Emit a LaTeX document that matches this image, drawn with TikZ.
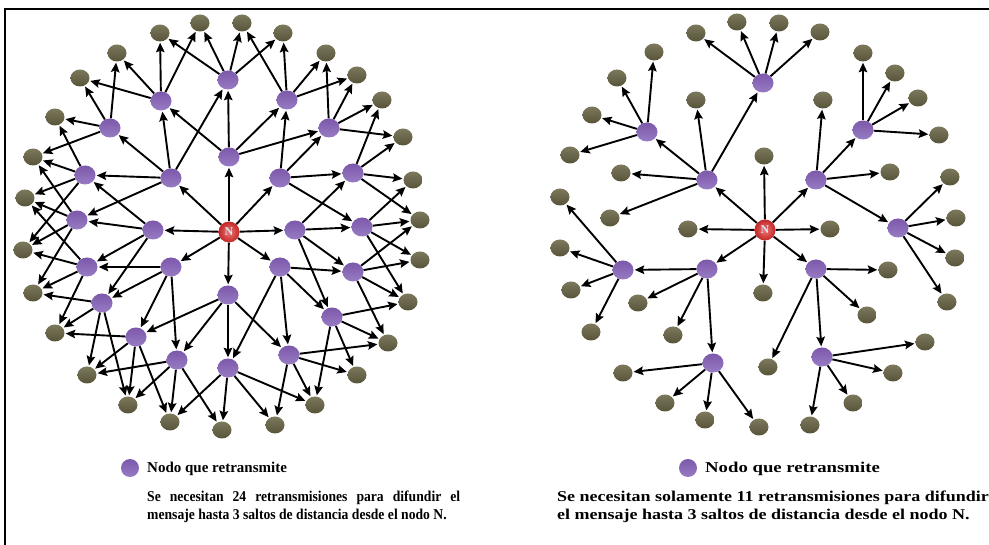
\documentclass[tikz,border=0pt]{standalone}
\usepackage{fontspec}
\setmainfont{Liberation Serif}
\newfontfamily\capL[FakeStretch=0.91]{Liberation Serif}
\newfontfamily\capR[FakeStretch=1.2]{Liberation Serif}
\newfontfamily\legL[FakeStretch=1.0]{Liberation Serif}
\newfontfamily\legR[FakeStretch=1.25]{Liberation Serif}
\usetikzlibrary{shapes.geometric,arrows.meta}
\pgfdeclarelayer{bg}
\pgfsetlayers{bg,main}
\definecolor{relay}{RGB}{124,88,170}
\definecolor{relaylight}{RGB}{152,124,196}
\definecolor{leaf}{RGB}{88,84,58}
\definecolor{leaflight}{RGB}{124,120,92}
\definecolor{srcin}{RGB}{238,120,115}
\definecolor{srcout}{RGB}{192,38,38}
\tikzset{
  relaynode/.style={ellipse,minimum width=21pt,minimum height=19pt,inner sep=0pt,
    top color=relay,bottom color=relaylight,draw=none},
  leafnode/.style={ellipse,minimum width=19pt,minimum height=17pt,inner sep=0pt,
    top color=leaflight,bottom color=leaf,draw=none},
  srcnode/.style={circle,minimum size=21pt,inner sep=0pt,inner color=srcin,outer color=srcout,
    text={rgb,255:red,215;green,228;blue,245},font=\bfseries\fontsize{12}{12}\selectfont},
  arr/.style={-{Stealth[length=9.5pt,width=8.5pt,inset=1.5pt]},line width=1.9pt,shorten >=1pt},
  captext/.style={inner sep=0pt,anchor=base west},
}
\newcommand{\capsize}{\bfseries\fontsize{15}{17}\selectfont}
\begin{document}
\begin{tikzpicture}[x=1pt,y=-1pt]
\useasboundingbox (0,0) rectangle (989,545);
% frame
\draw[line width=2pt] (5,545) -- (5,9) -- (989,9);

% ---------- left network: flooding ----------
\node[srcnode] (N) at (229,232) {N};
\foreach \n/\x/\y in {a1/229/157,a2/171/178,a3/280/178,a4/153/230,a5/295/230,a6/171/267,a7/280/267,a8/228/295,
  b1/228/80,b2/161/101,b3/287/100,b4/110/128,b5/329/128,b6/85/175,b7/353/173,b8/77/220,b9/362/227,
  b10/87/267,b11/353/272,b12/102/303,b13/332/317,b14/136/337,b15/289/355,b16/177/360,b17/228/368}
  \node[relaynode] (\n) at (\x,\y) {};
\foreach \n/\x/\y in {o1/200/23,o2/242/23,o3/160/33,o4/283/33,o5/117/53,o6/326/53,o7/80/78,o8/357/75,
  o9/55/117,o10/382/100,o11/33/157,o12/403/137,o13/25/198,o14/413/180,o15/420/220,o16/23/250,
  o17/420/260,o18/33/293,o19/408/302,o20/55/333,o21/388/343,o22/87/375,o23/357/375,o24/128/405,
  o25/315/405,o26/170/422,o27/275/425,o28/222/430}
  \node[leafnode] (\n) at (\x,\y) {};

\begin{pgfonlayer}{bg}
\foreach \s/\t in {N/a1,N/a2,N/a3,N/a4,N/a5,N/a6,N/a7,N/a8,
  a1/b1,a1/b2,a1/b3,a1/b5,
  a2/b2,a2/b1,a2/b4,a2/b6,a2/b8,
  a3/b3,a3/b5,a3/b7,a3/b9,
  a4/b6,a4/b8,a4/b10,a4/b12,
  a5/b9,a5/b7,a5/b11,a5/b13,
  a6/b10,a6/b12,a6/b14,a6/b16,
  a7/b11,a7/b13,a7/b15,a7/b17,
  a8/b17,a8/b15,a8/b16,a8/b14,
  b1/o1,b1/o2,b1/o3,b1/o4,
  b2/o3,b2/o1,b2/o5,b2/o7,
  b3/o2,b3/o4,b3/o6,b3/o8,
  b4/o5,b4/o7,b4/o9,b4/o11,
  b5/o6,b5/o8,b5/o10,b5/o12,
  b6/o9,b6/o11,b6/o13,b6/o16,
  b7/o10,b7/o12,b7/o14,b7/o15,
  b8/o11,b8/o13,b8/o16,b8/o18,
  b9/o14,b9/o15,b9/o17,b9/o19,
  b10/o13,b10/o16,b10/o18,b10/o20,
  b11/o15,b11/o17,b11/o19,b11/o21,
  b12/o18,b12/o20,b12/o22,b12/o24,
  b13/o19,b13/o21,b13/o23,b13/o25,
  b14/o20,b14/o22,b14/o24,b14/o26,
  b15/o21,b15/o23,b15/o25,b15/o27,
  b16/o22,b16/o24,b16/o26,b16/o28,
  b17/o25,b17/o26,b17/o27,b17/o28}
  \draw[arr] (\s) -- (\t);
\end{pgfonlayer}

% ---------- right network: selected relays ----------
\node[srcnode] (rN) at (765,230) {N};
\foreach \n/\x/\y in {rp1/707/180,rp2/816/180,rp3/707/269,rp4/816/269,
  rq1/763/83,rq2/647/132,rq3/863/130,rq4/898/228,rq5/623/270,rq6/713/363,rq7/822/357}
  \node[relaynode] (\n) at (\x,\y) {};
\foreach \n/\x/\y in {rs1/696/33,rs2/737/22,rs3/779/23,rs4/820/32,rs5/654/52,rs6/863/53,rs7/617/78,
  rs8/895/73,rs9/592/115,rs10/918/98,rs11/570/155,rs12/939/135,rs13/696/100,rs14/823/100,
  rs15/764/156,rs16/621/173,rs17/890/172,rs18/950/177,rs19/560/197,rs20/610/218,rs21/688/229,
  rs22/830/229,rs23/956/218,rs24/560/248,rs25/955/258,rs26/888/270,rs27/571/290,rs28/763/293,
  rs29/947/302,rs30/638/303,rs31/867/315,rs32/673/335,rs33/591/332,rs34/925/342,rs35/768/367,
  rs36/623/373,rs37/893/373,rs38/665/403,rs39/705/420,rs40/759/427,rs41/853/403,rs42/810/425}
  \node[leafnode] (\n) at (\x,\y) {};

\begin{pgfonlayer}{bg}
\foreach \s/\t in {rN/rp1,rN/rs15,rN/rp2,rN/rs21,rN/rs22,rN/rp3,rN/rs28,rN/rp4,
  rp1/rq1,rp1/rq2,rp1/rs13,rp1/rs16,rp1/rs20,
  rq1/rs1,rq1/rs2,rq1/rs3,rq1/rs4,
  rq2/rs5,rq2/rs7,rq2/rs9,rq2/rs11,
  rq3/rs6,rq3/rs8,rq3/rs10,rq3/rs12,
  rp2/rs14,rp2/rq3,rp2/rs17,rp2/rq4,
  rq4/rs18,rq4/rs23,rq4/rs25,rq4/rs29,
  rp3/rq5,rp3/rs30,rp3/rs32,rp3/rq6,
  rq5/rs19,rq5/rs24,rq5/rs27,rq5/rs33,
  rp4/rs26,rp4/rs31,rp4/rq7,rp4/rs35,
  rq6/rs36,rq6/rs38,rq6/rs39,rq6/rs40,
  rq7/rs34,rq7/rs37,rq7/rs41,rq7/rs42}
  \draw[arr] (\s) -- (\t);
\end{pgfonlayer}

% ---------- legends ----------
\node[relaynode,minimum width=18pt,minimum height=18pt] (legL) at (130,468) {};
\node[captext,font=\legL\capsize] (legLt) at (147,473) {Nodo que retransmite};
\node[relaynode,minimum width=18pt,minimum height=18pt] (legR) at (688,468) {};
\node[captext,font=\legR\capsize] (legRt) at (705,473) {Nodo que retransmite};

% ---------- captions ----------
\node[captext,font=\capL\capsize] (capL1) at (147,502) {\makebox[313pt][s]{Se necesitan 24 retransmisiones para difundir el}};
\node[captext,font=\capL\capsize] (capL2) at (147,519) {mensaje hasta 3 saltos de distancia desde el nodo N.};
\node[captext,font=\capR\capsize] (capR1) at (557,502) {Se necesitan solamente 11 retransmisiones para difundir};
\node[captext,font=\capR\capsize] (capR2) at (557,519) {el mensaje hasta 3 saltos de distancia desde el nodo N.};
\end{tikzpicture}
\end{document}
